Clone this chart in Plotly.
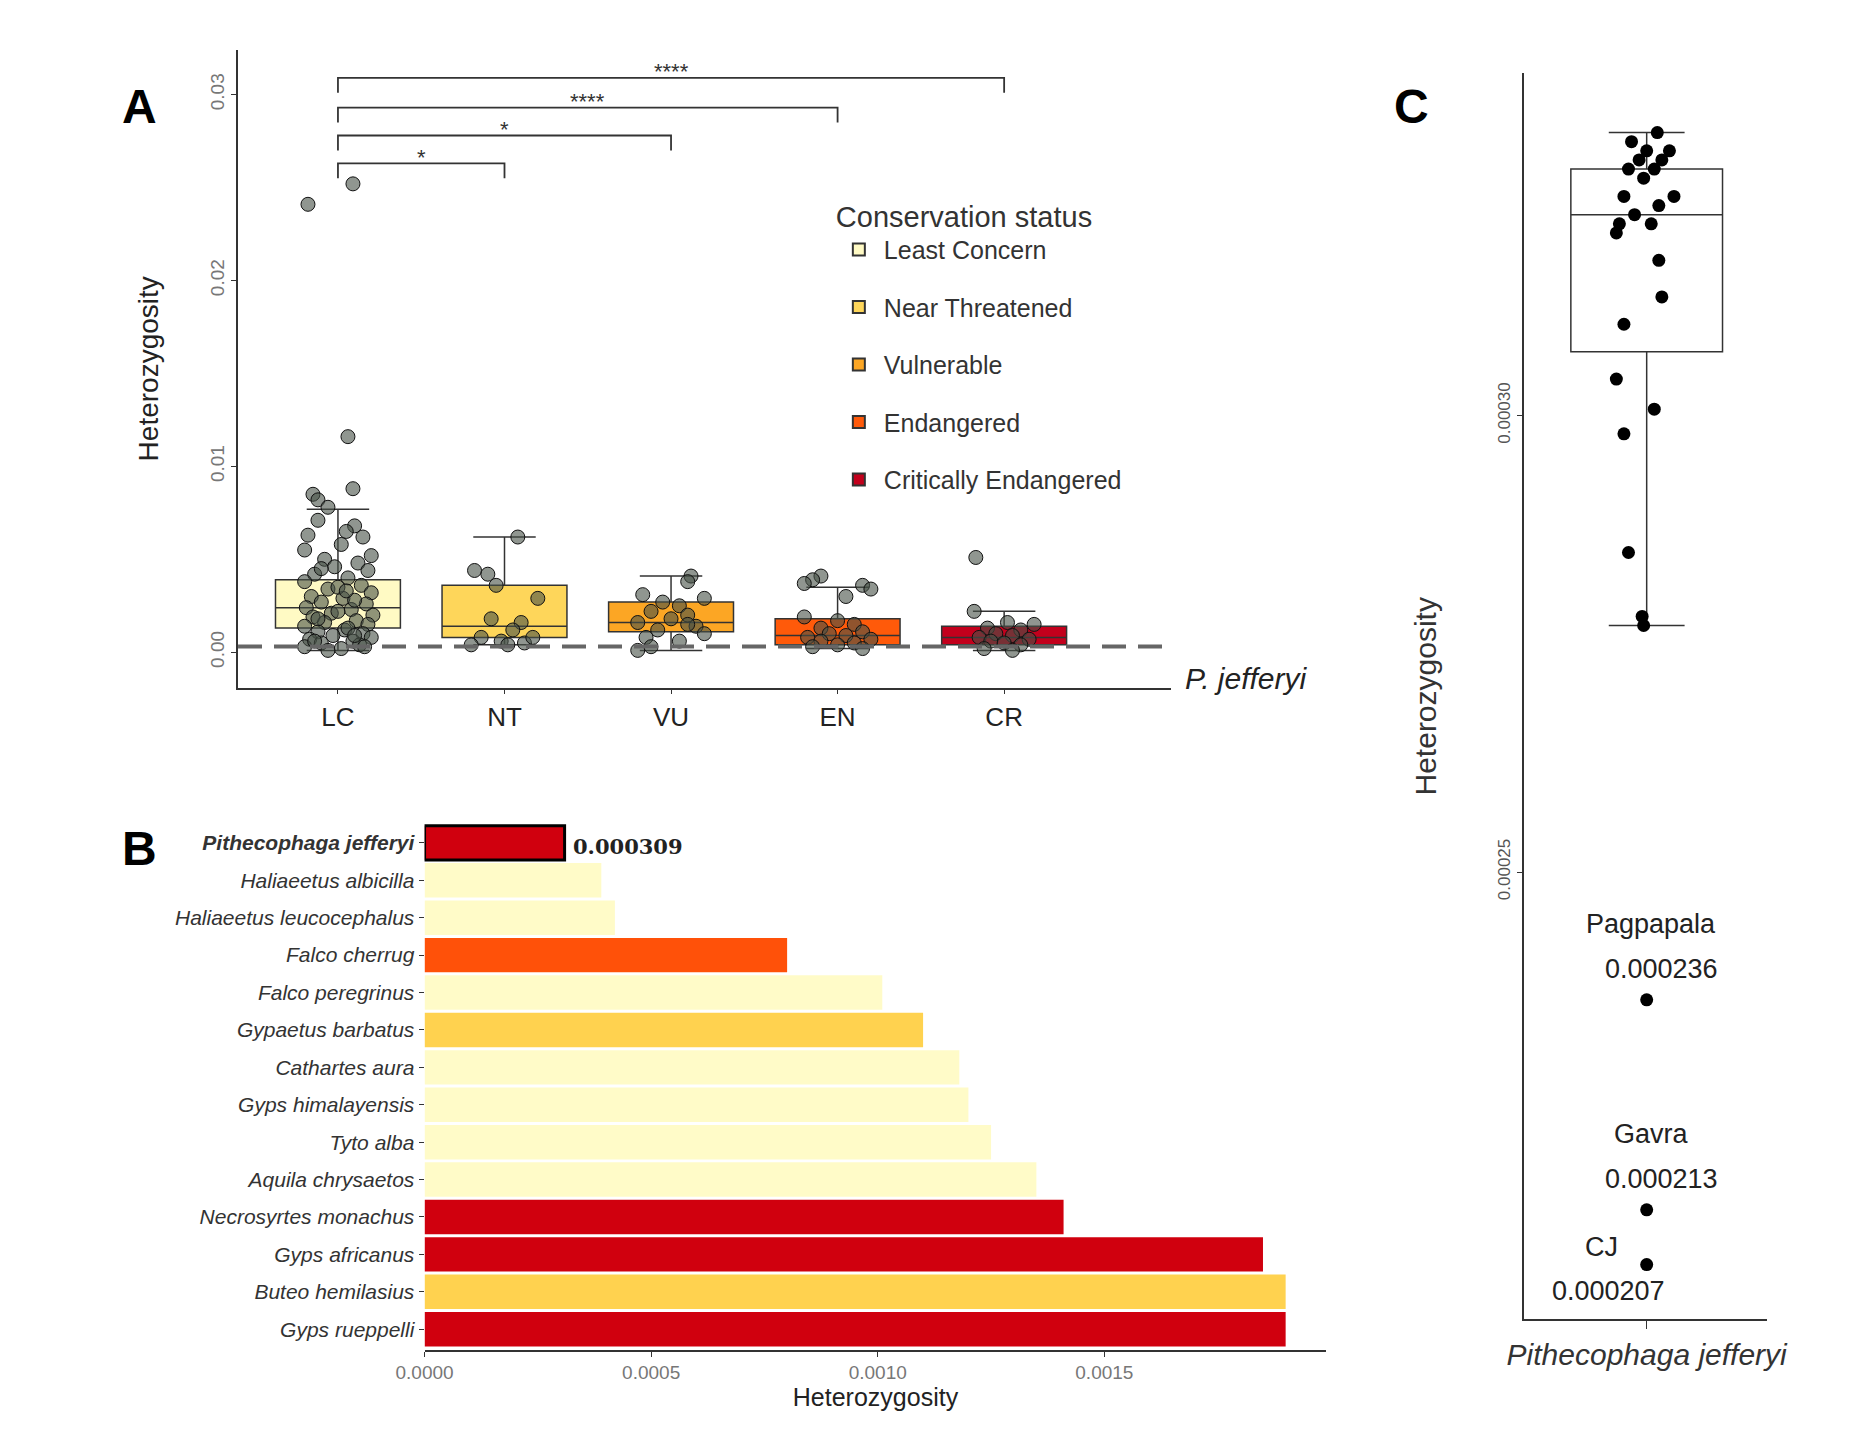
import plotly.graph_objects as go

# Panel A data
cats = ["LC", "NT", "VU", "EN", "CR"]
status_names = ["Least Concern", "Near Threatened", "Vulnerable", "Endangered", "Critically Endangered"]
status_cols = ["#FFFAC4", "#FED65A", "#FCA624", "#FF5A0A", "#C3001C"]
q1 = [0.0013, 0.0008, 0.0011, 0.0004, 0.0004]
med = [0.0024, 0.0014, 0.0016, 0.0009, 0.0008]
q3 = [0.0039, 0.0036, 0.0027, 0.0018, 0.0014]
lowf = [0.0001, 0.0004, 0.0001, 0.0002, 0.0001]
upf = [0.0077, 0.0062, 0.0041, 0.0035, 0.0022]

lc_vals = [0.0241, 0.0252, 0.0116, 0.0088, 0.0085, 0.0082, 0.0078, 0.0071, 0.0068, 0.0065, 0.0063, 0.0062,
           0.0058, 0.0055, 0.0052, 0.0050, 0.0048, 0.0046, 0.0044, 0.0042, 0.0040, 0.0038, 0.0036, 0.0034,
           0.0032, 0.0030, 0.0029, 0.0027, 0.0026, 0.0024, 0.0023, 0.0021, 0.0020, 0.0019, 0.0017, 0.0016,
           0.0015, 0.0014, 0.0012, 0.0011, 0.0010, 0.0009, 0.0008, 0.0007, 0.0006, 0.0005, 0.0004, 0.0003,
           0.0002, 0.0001, 0.0035, 0.0045, 0.0028, 0.0018, 0.0013, 0.0006, 0.0003, 0.0022, 0.0033, 0.0009]
lc_off = [-0.18, 0.09, 0.06, 0.09, -0.15, -0.12, -0.06, -0.12, 0.10, 0.05, -0.18, 0.15,
          0.02, -0.20, 0.20, -0.08, 0.12, -0.02, 0.18, -0.14, 0.06, -0.20, 0.14, -0.06,
          0.20, -0.16, 0.03, -0.10, 0.17, -0.19, 0.08, -0.04, 0.21, -0.15, 0.11, -0.08,
          0.18, -0.20, 0.04, -0.12, 0.15, -0.03, 0.20, -0.17, 0.09, -0.10, 0.13, -0.20,
          0.02, -0.06, 0.00, -0.10, 0.10, -0.12, 0.06, -0.14, 0.16, 0.00, 0.05, 0.10]
nt_vals = [0.0062, 0.0044, 0.0042, 0.0036, 0.0029, 0.0018, 0.0016, 0.0012, 0.0008, 0.0006, 0.0005, 0.0004, 0.0004, 0.0008]
nt_off = [0.08, -0.18, -0.10, -0.05, 0.20, -0.08, 0.10, 0.05, -0.14, -0.02, 0.12, -0.20, 0.02, 0.17]
vu_vals = [0.0041, 0.0038, 0.0031, 0.0029, 0.0027, 0.0025, 0.0022, 0.0020, 0.0018, 0.0016, 0.0014, 0.0012,
           0.0010, 0.0008, 0.0006, 0.0003, 0.0001, 0.0015]
vu_off = [0.12, 0.10, -0.17, 0.20, -0.05, 0.05, -0.12, 0.10, 0.00, -0.20, 0.15, -0.08, 0.20, -0.15, 0.05, -0.12, -0.20, 0.10]
en_vals = [0.0041, 0.0039, 0.0037, 0.0036, 0.0034, 0.0030, 0.0019, 0.0017, 0.0015, 0.0013, 0.0011, 0.0010,
           0.0009, 0.0008, 0.0007, 0.0006, 0.0005, 0.0004, 0.0003, 0.0002]
en_off = [-0.10, -0.15, -0.20, 0.15, 0.20, 0.05, -0.20, 0.00, 0.10, -0.10, 0.15, -0.05, 0.05, -0.18, 0.20, -0.10, 0.10, 0.00, -0.15, 0.15]
cr_vals = [0.0051, 0.0022, 0.0016, 0.0015, 0.0013, 0.0012, 0.0010, 0.0009, 0.0008, 0.0007, 0.0006, 0.0005, 0.0004, 0.0002, 0.0001]
cr_off = [-0.17, -0.18, 0.02, 0.18, -0.10, 0.10, -0.05, 0.05, -0.15, 0.15, -0.08, 0.00, 0.10, -0.12, 0.05]
pts_vals = [lc_vals, nt_vals, vu_vals, en_vals, cr_vals]
pts_off = [lc_off, nt_off, vu_off, en_off, cr_off]
p_jeff = 0.000309
brackets = [(1, 0.0263, "*"), (2, 0.0278, "*"), (3, 0.0293, "****"), (4, 0.0309, "****")]

# Panel B data
species = ["<b>Pithecophaga jefferyi</b>", "Haliaeetus albicilla", "Haliaeetus leucocephalus", "Falco cherrug",
           "Falco peregrinus", "Gypaetus barbatus", "Cathartes aura", "Gyps himalayensis", "Tyto alba",
           "Aquila chrysaetos", "Necrosyrtes monachus", "Gyps africanus", "Buteo hemilasius", "Gyps rueppelli"]
het = [0.000309, 0.00039, 0.00042, 0.00080, 0.00101, 0.00110, 0.00118, 0.00120, 0.00125, 0.00135,
       0.00141, 0.00185, 0.00190, 0.00190]
bar_cols = ["#D0000E", "#FFFBC8", "#FFFBC8", "#FF5109", "#FFFBC8", "#FFD24F", "#FFFBC8", "#FFFBC8",
            "#FFFBC8", "#FFFBC8", "#D0000E", "#D0000E", "#FFD24F", "#D0000E"]

# Panel C data
c_vals = [0.000331, 0.000330, 0.000329, 0.000329, 0.000328, 0.000328, 0.000327, 0.000327, 0.000326, 0.000324,
          0.000324, 0.000323, 0.000322, 0.000321, 0.000321, 0.000320, 0.000317, 0.000313, 0.000310,
          0.000304, 0.0003007, 0.000298, 0.000285, 0.000278, 0.000277, 0.000236, 0.000213, 0.000207]
c_off = [0.07, -0.1, 0.0, 0.15, -0.05, 0.1, -0.12, 0.05, -0.02, 0.18, -0.15, 0.08, -0.08, 0.03, -0.18, -0.2,
         0.08, 0.1, -0.15, -0.2, 0.05, -0.15, -0.12, -0.03, -0.02, 0.0, 0.0, 0.0]
c_labels = ["Pagpapala", "Gavra", "CJ"]
c_label_vals = [0.000236, 0.000213, 0.000207]

FONT = "Liberation Sans Narrow, Liberation Sans, Arial"
fig = go.Figure()

# A: boxes
for i in range(5):
    fig.add_trace(go.Box(x=[i], q1=[q1[i]], median=[med[i]], q3=[q3[i]], lowerfence=[lowf[i]], upperfence=[upf[i]],
                         width=0.75, fillcolor=status_cols[i], line=dict(color="#333333", width=1.5),
                         name=status_names[i], legendgroup=f"g{i}", boxpoints=False,
                         xaxis="x", yaxis="y", showlegend=True))
for i in range(5):
    fig.add_trace(go.Scatter(x=[i + o for o in pts_off[i]], y=pts_vals[i], mode="markers", showlegend=False,
                             marker=dict(size=14, color="rgba(70,80,70,0.6)", line=dict(color="#111", width=1)),
                             xaxis="x", yaxis="y"))
fig.add_shape(type="line", xref="x", yref="y", x0=-0.6, x1=4.97, y0=p_jeff, y1=p_jeff,
              line=dict(color="#666", width=4, dash="24px,12px"))
for j, h, lab in brackets:
    fig.add_shape(type="path", xref="x", yref="y",
                  path=f"M 0,{h-0.0008} L 0,{h} L {j},{h} L {j},{h-0.0008}", line=dict(color="#333", width=1.8))
    fig.add_annotation(x=j / 2, y=h, text=lab, showarrow=False, xref="x", yref="y", yanchor="middle", yshift=6,
                       font=dict(size=22, color="#333"))
fig.add_annotation(x=0.633, y=0.537, xref="paper", yref="paper", text="<i>P. jefferyi</i>", showarrow=False,
                   xanchor="left", font=dict(size=30, color="#222", family=FONT))

# B: bars
fig.add_trace(go.Bar(x=het, y=species, orientation="h", marker=dict(color=bar_cols,
                     line=dict(color=["#000"] + ["rgba(0,0,0,0)"] * 13, width=[3] + [0] * 13)),
                     xaxis="x2", yaxis="y2", showlegend=False, width=0.92))
fig.add_annotation(x=het[0], y=species[0], xref="x2", yref="y2", text="<b>0.000309</b>", showarrow=False,
                   xanchor="left", xshift=6, yshift=-4, font=dict(size=21, family="DejaVu Serif", color="#222"))

# C
fig.add_trace(go.Box(x=[0], q1=[0.000307], median=[0.000322], q3=[0.000327], lowerfence=[0.000277],
                     upperfence=[0.000331], width=1.0, fillcolor="white", line=dict(color="#333", width=1.5),
                     boxpoints=False, xaxis="x3", yaxis="y3", showlegend=False))
fig.add_trace(go.Scatter(x=c_off, y=c_vals, mode="markers", marker=dict(size=13, color="black"),
                         xaxis="x3", yaxis="y3", showlegend=False))
for lab, v in zip(c_labels, c_label_vals):
    if lab == "CJ":
        fig.add_annotation(x=-0.3, y=v, xref="x3", yref="y3", text=lab, showarrow=False, yshift=18,
                           font=dict(size=27, family=FONT, color="#222"))
        fig.add_annotation(x=-0.25, y=v, xref="x3", yref="y3", text=f"{v:.6f}", showarrow=False, yshift=-26,
                           font=dict(size=27, family=FONT, color="#222"))
    else:
        fig.add_annotation(x=0.03, y=v, xref="x3", yref="y3", text=lab, showarrow=False, yshift=76,
                           font=dict(size=27, family=FONT, color="#222"))
        fig.add_annotation(x=0.1, y=v, xref="x3", yref="y3", text=f"{v:.6f}", showarrow=False, yshift=31,
                           font=dict(size=27, family=FONT, color="#222"))

for t, x, y in [("A", 0.046, 0.952), ("B", 0.046, 0.42), ("C", 0.77, 0.952)]:
    fig.add_annotation(x=x, y=y, xref="paper", yref="paper", text=f"<b>{t}</b>", showarrow=False,
                       font=dict(size=48, family="Liberation Sans", color="black"))

axcommon = dict(showgrid=False, zeroline=False, showline=True, linecolor="#333", linewidth=1.5,
                ticks="outside", tickcolor="#333")
fig.update_layout(
    width=1861, height=1449, paper_bgcolor="white", plot_bgcolor="white",
    margin=dict(l=0, r=0, t=0, b=0), font=dict(family=FONT, color="#333"),
    barmode="overlay",
    xaxis=dict(axcommon, domain=[0.111, 0.626], range=[-0.6, 5.0], tickvals=list(range(5)), ticktext=cats,
               tickfont=dict(size=26, color="#222")),
    yaxis=dict(axcommon, domain=[0.531, 0.971], range=[-0.0019, 0.0324], tickvals=[0, 0.01, 0.02, 0.03],
               ticktext=["0.00", "0.01", "0.02", "0.03"], tickangle=-90, tickfont=dict(size=19, color="#777"),
               title=dict(text="Heterozygosity", font=dict(size=28, color="#222"), standoff=40)),
    xaxis2=dict(axcommon, domain=[0.214, 0.712], range=[0, 0.00199], tickvals=[0, 0.0005, 0.001, 0.0015],
                ticktext=["0.0000", "0.0005", "0.0010", "0.0015"], tickfont=dict(size=19, color="#777"),
                anchor="y2", title=dict(text="Heterozygosity", font=dict(size=25, color="#222"), standoff=6)),
    yaxis2=dict(axcommon, domain=[0.074, 0.438], anchor="x2", showline=False,
                categoryorder="array", categoryarray=species,
                tickvals=species, ticktext=[f"<i>{s}</i>" for s in species],
                tickfont=dict(size=21, color="#333"), range=[13.55, -0.55]),
    xaxis3=dict(axcommon, domain=[0.821, 0.955], range=[-0.81, 0.79], anchor="y3", tickvals=[0],
                ticktext=["<i>Pithecophaga jefferyi</i>"], tickfont=dict(size=30, color="#333"), ticklen=8),
    yaxis3=dict(axcommon, domain=[0.095, 0.955], anchor="x3", range=[0.000201, 0.0003375],
                tickvals=[0.00025, 0.0003], ticktext=["0.00025", "0.00030"], tickangle=-90,
                tickfont=dict(size=17, color="#555"),
                title=dict(text="Heterozygosity", font=dict(size=30, color="#333"), standoff=50)),
    legend=dict(x=0.44, y=0.875, xanchor="left", yanchor="top", bgcolor="rgba(0,0,0,0)",
                title=dict(text="Conservation status", font=dict(size=29, color="#333")),
                font=dict(size=25, color="#333"), itemsizing="constant", tracegroupgap=22, itemwidth=40),
)
fig.write_html("out.html")
